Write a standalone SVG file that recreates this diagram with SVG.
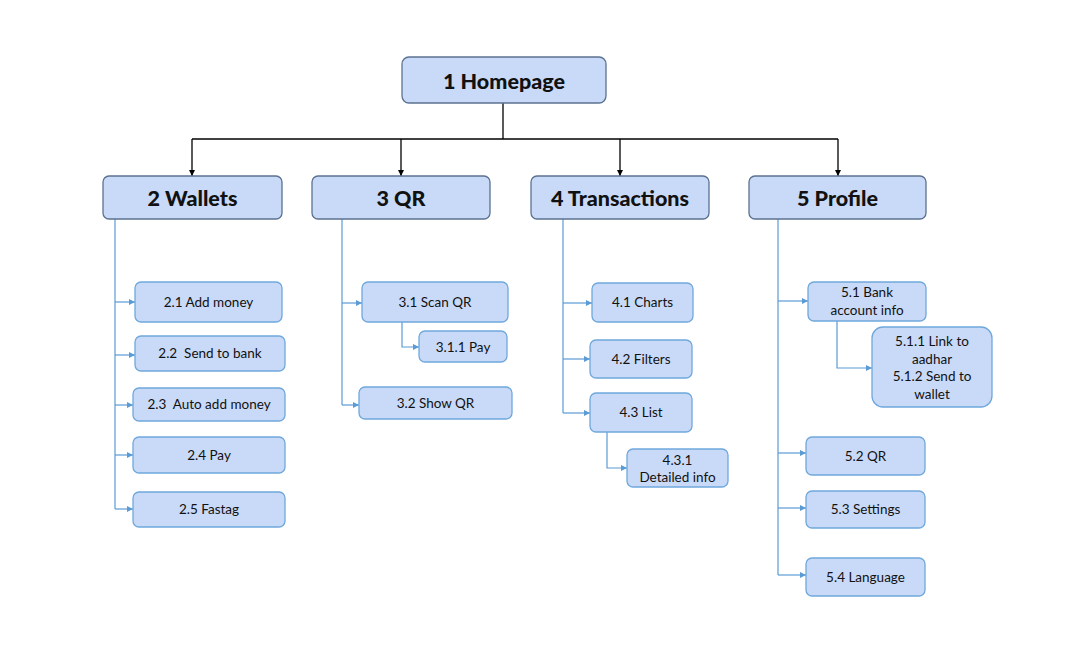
<svg xmlns="http://www.w3.org/2000/svg" width="1087" height="659" viewBox="0 0 1087 659">
<defs>
<marker id="ab" viewBox="0 0 10 10" refX="10" refY="5" markerWidth="6" markerHeight="7" markerUnits="userSpaceOnUse" orient="auto"><path d="M0,0 L10,5 L0,10 z" fill="#000"/></marker>
<marker id="au" viewBox="0 0 10 10" refX="10" refY="5" markerWidth="7" markerHeight="6" markerUnits="userSpaceOnUse" orient="auto"><path d="M0,0 L10,5 L0,10 z" fill="#5b9bd5"/></marker>
<style>
.top rect{fill:#c9daf8;stroke:#5b7190;stroke-width:1.3}
.top text{font-family:Lato,"Open Sans",sans-serif;font-weight:900;font-size:21.5px;fill:#111;text-anchor:middle}
.sub rect{fill:#c9daf8;stroke:#6fa8dc;stroke-width:1.3}
.sub text{font-family:Lato,"Open Sans",sans-serif;font-size:13.5px;fill:#111;text-anchor:middle;white-space:pre}
.cb{fill:none;stroke:#000;stroke-width:1.3}
.cu{fill:none;stroke:#5b9bd5;stroke-width:1.2}
</style>
</defs>
<rect width="1087" height="659" fill="#fff"/>
<g id="connectors">
<path class="cb" d="M503,103 V139"/>
<path class="cb" d="M192,139 H838"/>
<path class="cb" d="M192,139 V176" marker-end="url(#ab)"/>
<path class="cb" d="M401,139 V176" marker-end="url(#ab)"/>
<path class="cb" d="M620,139 V176" marker-end="url(#ab)"/>
<path class="cb" d="M838,139 V176" marker-end="url(#ab)"/>
<path class="cu" d="M115,219 V509"/>
<path class="cu" d="M115,302 H135" marker-end="url(#au)"/>
<path class="cu" d="M115,355 H135" marker-end="url(#au)"/>
<path class="cu" d="M115,405 H133" marker-end="url(#au)"/>
<path class="cu" d="M115,455 H133" marker-end="url(#au)"/>
<path class="cu" d="M115,509 H133" marker-end="url(#au)"/>
<path class="cu" d="M342,219 V405"/>
<path class="cu" d="M342,303 H362" marker-end="url(#au)"/>
<path class="cu" d="M342,405 H359" marker-end="url(#au)"/>
<path class="cu" d="M402,322 V347 H419" marker-end="url(#au)"/>
<path class="cu" d="M563,219 V413"/>
<path class="cu" d="M563,303 H592" marker-end="url(#au)"/>
<path class="cu" d="M563,359 H590" marker-end="url(#au)"/>
<path class="cu" d="M563,413 H590" marker-end="url(#au)"/>
<path class="cu" d="M607,432 V468 H627" marker-end="url(#au)"/>
<path class="cu" d="M778,219 V575"/>
<path class="cu" d="M778,301 H808" marker-end="url(#au)"/>
<path class="cu" d="M778,453 H806" marker-end="url(#au)"/>
<path class="cu" d="M778,508 H806" marker-end="url(#au)"/>
<path class="cu" d="M778,575 H806" marker-end="url(#au)"/>
<path class="cu" d="M837,321 V368 H872" marker-end="url(#au)"/>
</g>
<g id="n1" class="top"><rect x="402" y="57" width="204" height="46" rx="7"/><text x="504" y="89">1 Homepage</text></g>
<g id="n2" class="top"><rect x="103" y="176" width="179" height="43" rx="6"/><text x="192.5" y="206">2 Wallets</text></g>
<g id="n3" class="top"><rect x="312" y="176" width="178" height="43" rx="6"/><text x="401" y="206">3 QR</text></g>
<g id="n4" class="top"><rect x="531" y="176" width="178" height="43" rx="6"/><text x="620" y="206">4 Transactions</text></g>
<g id="n5" class="top"><rect x="749" y="176" width="177" height="43" rx="6"/><text x="837.5" y="206">5 Profile</text></g>
<g id="n21" class="sub"><rect x="135" y="282" width="147" height="40" rx="6"/><text x="208.5" y="307">2.1 Add money</text></g>
<g id="n22" class="sub"><rect x="135" y="336" width="150" height="35" rx="6"/><text x="210" y="358">2.2  Send to bank</text></g>
<g id="n23" class="sub"><rect x="133" y="388" width="152" height="33" rx="6"/><text x="209" y="409">2.3  Auto add money</text></g>
<g id="n24" class="sub"><rect x="133" y="437" width="152" height="36" rx="6"/><text x="209" y="460">2.4 Pay</text></g>
<g id="n25" class="sub"><rect x="133" y="492" width="152" height="35" rx="6"/><text x="209" y="514">2.5 Fastag</text></g>
<g id="n31" class="sub"><rect x="362" y="282" width="146" height="40" rx="6"/><text x="435" y="307">3.1 Scan QR</text></g>
<g id="n311" class="sub"><rect x="419" y="331" width="88" height="31" rx="6"/><text x="463" y="352">3.1.1 Pay</text></g>
<g id="n32" class="sub"><rect x="359" y="387" width="153" height="32" rx="6"/><text x="435.5" y="408">3.2 Show QR</text></g>
<g id="n41" class="sub"><rect x="592" y="283" width="101" height="39" rx="6"/><text x="642.5" y="307">4.1 Charts</text></g>
<g id="n42" class="sub"><rect x="590" y="340" width="102" height="38" rx="6"/><text x="641" y="364">4.2 Filters</text></g>
<g id="n43" class="sub"><rect x="590" y="393" width="102" height="39" rx="6"/><text x="641" y="417">4.3 List</text></g>
<g id="n431" class="sub"><rect x="627" y="449" width="101" height="38" rx="6"/><text x="677.5" y="465">4.3.1</text><text x="677.5" y="482">Detailed info</text></g>
<g id="n51" class="sub"><rect x="808" y="282" width="118" height="39" rx="6"/><text x="867" y="297">5.1 Bank</text><text x="867" y="315">account info</text></g>
<g id="n511" class="sub"><rect x="872" y="327" width="120" height="80" rx="11"/><text x="932" y="346">5.1.1 Link to</text><text x="932" y="364">aadhar</text><text x="932" y="381">5.1.2 Send to</text><text x="932" y="399">wallet</text></g>
<g id="n52" class="sub"><rect x="806" y="437" width="119" height="38" rx="6"/><text x="865.5" y="461">5.2 QR</text></g>
<g id="n53" class="sub"><rect x="806" y="491" width="119" height="37" rx="6"/><text x="865.5" y="514">5.3 Settings</text></g>
<g id="n54" class="sub"><rect x="806" y="558" width="119" height="38" rx="6"/><text x="865.5" y="582">5.4 Language</text></g>
</svg>
